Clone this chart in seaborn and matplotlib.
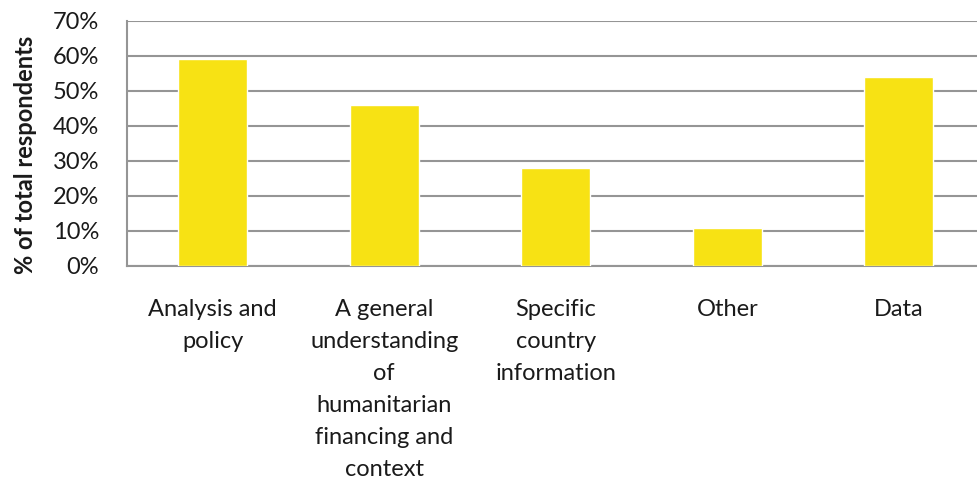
import pandas as pd
import seaborn as sns
import matplotlib.pyplot as plt
from matplotlib.ticker import PercentFormatter, FixedLocator

categories = ["Analysis and\npolicy",
              "A general\nunderstanding\nof\nhumanitarian\nfinancing and\ncontext",
              "Specific\ncountry\ninformation",
              "Other",
              "Data"]
values = [59, 46, 28, 11, 54]  # % of total respondents
y_ticks = [0, 10, 20, 30, 40, 50, 60, 70]

bar_color = "#F7E214"
grid_color = "#959595"
text_color = "#1a1a1a"

sns.set_style("white")
plt.rcParams['font.family'] = ['Lato', 'DejaVu Sans']

df = pd.DataFrame({"cat": categories, "pct": values})

fig = plt.figure(figsize=(9.77, 4.84), dpi=100)
ax = fig.add_axes([127 / 977, 1 - 266 / 484, 857.5 / 977, 245 / 484])

sns.barplot(data=df, x="cat", y="pct", color=bar_color, width=0.4,
            saturation=1, ax=ax, zorder=3)

ax.set_ylim(0, 70)
ax.set_xlim(-0.5, len(categories) - 0.5)
ax.yaxis.set_major_locator(FixedLocator(y_ticks))
ax.yaxis.set_major_formatter(PercentFormatter(decimals=0))
ax.yaxis.grid(True, color=grid_color, linewidth=1.5, zorder=0)
ax.set_axisbelow(True)

for side in ["top", "right"]:
    ax.spines[side].set_visible(False)
for side in ["left", "bottom"]:
    ax.spines[side].set_color(grid_color)
    ax.spines[side].set_linewidth(1.5)

# category labels sit between the boundary ticks
ax.xaxis.set_major_locator(FixedLocator([i - 0.5 for i in range(len(categories) + 1)]))
ax.xaxis.set_major_formatter(plt.NullFormatter())
ax.xaxis.set_minor_locator(FixedLocator(range(len(categories))))
ax.set_xticklabels(categories, minor=True, fontsize=17, linespacing=1.64,
                   va="top", color=text_color)
ax.tick_params(axis="x", which="major", length=7, width=1.5, color=grid_color, direction="out")
ax.tick_params(axis="x", which="minor", length=0, pad=24)
ax.tick_params(axis="y", length=8, width=1.5, color=grid_color, labelsize=17,
               labelcolor=text_color, pad=12)

ax.set_xlabel("")
ax.set_ylabel("% of total respondents", fontsize=17, fontweight="bold", color=text_color)
ax.yaxis.set_label_coords(-0.105, 0.455)

fig.savefig("out.png", dpi=100)
